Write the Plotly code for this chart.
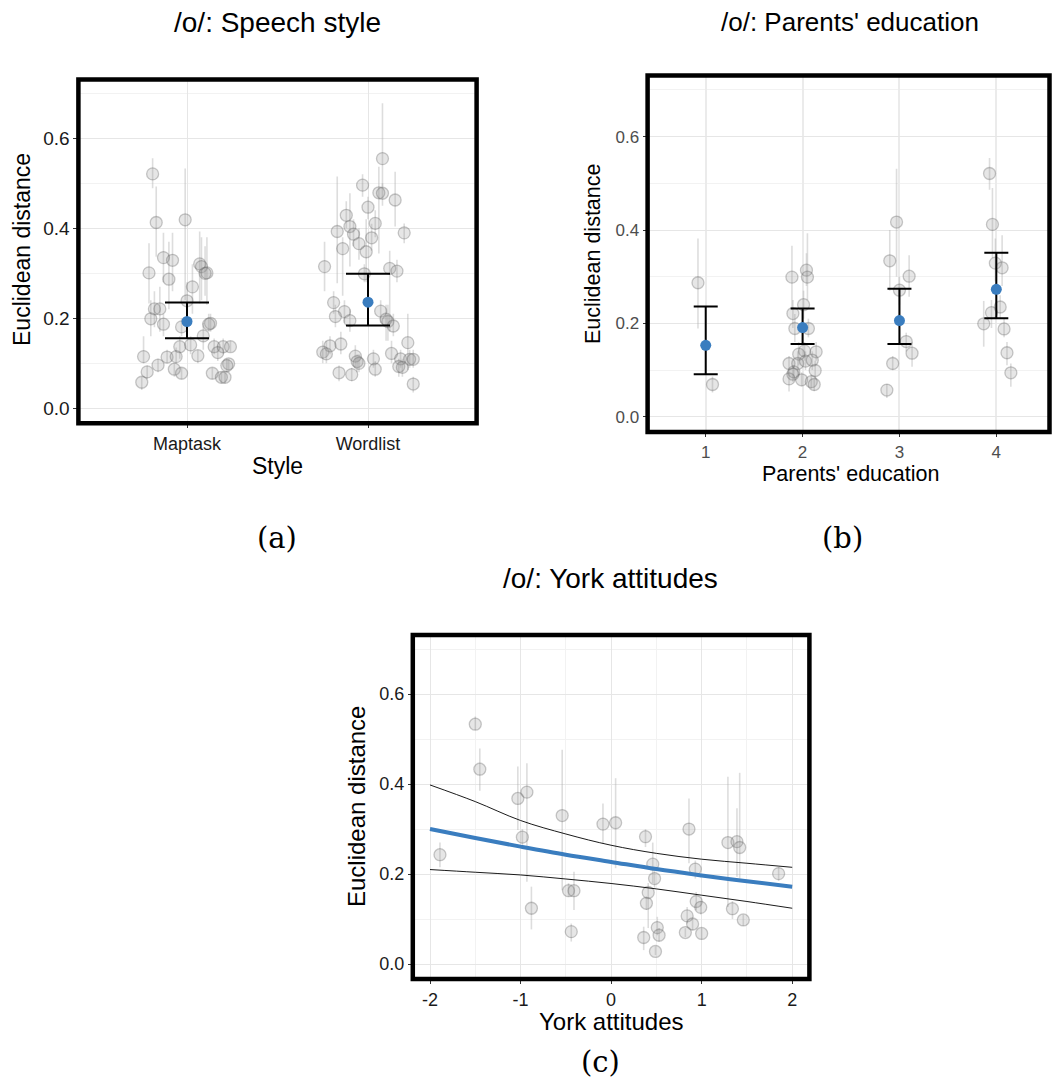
import plotly.graph_objects as go

W, H = 1052, 1078

# ---------------- Panel (a): Speech style ----------------
style_categories = ["Maptask", "Wordlist"]
a_x = [0.81, 0.83, 0.99, 0.87, 0.92, 0.79, 0.90, 1.07, 1.08, 1.11, 1.10, 1.03, 1.00, 0.82, 0.85,
       0.80, 0.87, 0.97, 1.13, 1.12, 1.09, 0.96, 1.02, 1.15, 1.20, 1.24, 1.17, 1.06, 0.76, 0.89,
       0.94, 0.84, 0.93, 0.78, 0.97, 1.23, 1.22, 1.14, 1.19, 1.21, 0.75,
       2.08, 1.97, 2.06, 2.08, 2.15, 2.00, 1.88, 2.04, 1.90, 1.83, 1.92, 2.02, 2.20, 1.95, 1.86,
       1.99, 1.76, 2.12, 2.16, 1.98, 1.81, 1.87, 2.07, 1.82, 1.90, 2.10, 2.11, 2.14, 2.22, 1.85,
       1.79, 1.75, 1.77, 2.13, 1.93, 2.03, 1.94, 1.95, 2.18, 2.23, 2.25, 2.17, 2.19, 2.04, 1.84,
       1.91, 2.25]
a_y = [0.521, 0.413, 0.419, 0.335, 0.329, 0.301, 0.287, 0.321, 0.315, 0.301, 0.300, 0.270, 0.239, 0.221, 0.221,
       0.199, 0.187, 0.181, 0.189, 0.187, 0.161, 0.137, 0.141, 0.137, 0.137, 0.137, 0.124, 0.117, 0.115, 0.114,
       0.115, 0.096, 0.087, 0.081, 0.078, 0.099, 0.095, 0.078, 0.069, 0.069, 0.058,
       0.555, 0.496, 0.479, 0.478, 0.463, 0.447, 0.429, 0.411, 0.404, 0.393, 0.387, 0.379, 0.390, 0.366, 0.355,
       0.348, 0.315, 0.311, 0.305, 0.299, 0.235, 0.215, 0.216, 0.204, 0.195, 0.198, 0.193, 0.183, 0.146, 0.143,
       0.139, 0.125, 0.121, 0.122, 0.116, 0.110, 0.104, 0.100, 0.110, 0.109, 0.109, 0.093, 0.091, 0.087, 0.079,
       0.075, 0.054]
a_hi = [0.556, 0.493, 0.533, 0.390, 0.390, 0.367, 0.370, 0.393, 0.380, 0.380, 0.360, 0.320, 0.280, 0.260, 0.270,
        0.240, 0.210, 0.200, 0.210, 0.210, 0.190, 0.160, 0.160, 0.155, 0.155, 0.150, 0.140, 0.130, 0.160, 0.130,
        0.135, 0.110, 0.100, 0.095, 0.090, 0.110, 0.110, 0.090, 0.080, 0.080, 0.070,
        0.678, 0.520, 0.537, 0.500, 0.526, 0.470, 0.460, 0.440, 0.478, 0.515, 0.420, 0.410, 0.411, 0.400, 0.380,
        0.420, 0.370, 0.350, 0.330, 0.320, 0.260, 0.240, 0.240, 0.230, 0.220, 0.230, 0.230, 0.210, 0.210, 0.170,
        0.160, 0.150, 0.150, 0.150, 0.140, 0.130, 0.120, 0.120, 0.130, 0.130, 0.130, 0.110, 0.110, 0.105, 0.095,
        0.090, 0.070]
a_lo = [0.489, 0.337, 0.241, 0.280, 0.260, 0.233, 0.220, 0.233, 0.240, 0.230, 0.250, 0.210, 0.200, 0.180, 0.170,
        0.160, 0.160, 0.160, 0.170, 0.170, 0.130, 0.110, 0.120, 0.120, 0.120, 0.125, 0.105, 0.100, 0.100, 0.100,
        0.100, 0.080, 0.070, 0.065, 0.065, 0.080, 0.080, 0.065, 0.055, 0.055, 0.041,
        0.493, 0.470, 0.344, 0.450, 0.404, 0.420, 0.400, 0.380, 0.315, 0.278, 0.360, 0.350, 0.367, 0.330, 0.250,
        0.280, 0.260, 0.170, 0.280, 0.280, 0.210, 0.190, 0.190, 0.180, 0.170, 0.150, 0.150, 0.160, 0.085, 0.120,
        0.120, 0.100, 0.100, 0.100, 0.090, 0.090, 0.080, 0.080, 0.090, 0.090, 0.090, 0.070, 0.070, 0.070, 0.060,
        0.060, 0.035]
a_mean_x = [1, 2]
a_mean = [0.193, 0.236]
a_mean_lo = [0.156, 0.184]
a_mean_hi = [0.235, 0.299]

# ---------------- Panel (b): Parents' education ----------------
b_x = [0.92, 1.07,
       2.04, 2.05, 1.89, 2.01, 1.90, 1.92, 2.06, 2.02, 2.14, 1.96, 1.86, 1.95, 2.03, 2.10, 2.13, 1.91,
       1.90, 1.86, 1.99, 2.09, 2.12,
       2.97, 2.90, 3.10, 3.00, 3.07, 3.13, 2.93, 2.87,
       3.93, 3.96, 3.99, 4.06, 4.04, 3.95, 3.87, 4.08, 4.11, 4.15]
b_y = [0.287, 0.069,
       0.314, 0.299, 0.299, 0.240, 0.221, 0.189, 0.189, 0.141, 0.139, 0.134, 0.114, 0.114, 0.119, 0.121, 0.099, 0.096,
       0.091, 0.081, 0.079, 0.075, 0.069,
       0.417, 0.334, 0.301, 0.271, 0.161, 0.136, 0.114, 0.057,
       0.521, 0.412, 0.329, 0.319, 0.235, 0.223, 0.199, 0.188, 0.137, 0.094]
b_hi = [0.382, 0.086,
        0.350, 0.393, 0.366, 0.270, 0.250, 0.220, 0.210, 0.160, 0.160, 0.160, 0.130, 0.140, 0.140, 0.140, 0.120, 0.110,
        0.110, 0.100, 0.095, 0.090, 0.080,
        0.531, 0.400, 0.346, 0.300, 0.180, 0.160, 0.130, 0.070,
        0.554, 0.490, 0.382, 0.389, 0.260, 0.250, 0.248, 0.210, 0.160, 0.114]
b_lo = [0.189, 0.052,
        0.280, 0.250, 0.229, 0.210, 0.190, 0.160, 0.170, 0.120, 0.120, 0.110, 0.100, 0.090, 0.100, 0.100, 0.080, 0.080,
        0.075, 0.054, 0.065, 0.060, 0.055,
        0.300, 0.270, 0.257, 0.240, 0.140, 0.107, 0.100, 0.040,
        0.486, 0.340, 0.290, 0.280, 0.210, 0.190, 0.150, 0.170, 0.110, 0.064]
b_mean_x = [1, 2, 3, 4]
b_mean = [0.153, 0.191, 0.206, 0.273]
b_mean_lo = [0.091, 0.156, 0.156, 0.211]
b_mean_hi = [0.236, 0.232, 0.274, 0.351]

# ---------------- Panel (c): York attitudes ----------------
c_x = [-1.89, -1.50, -1.45, -1.03, -0.93, -0.98, -0.88, -0.54, -0.47, -0.41, -0.44, -0.09, 0.05,
       0.38, 0.46, 0.48, 0.41, 0.39, 0.36, 0.51, 0.53, 0.49, 0.86, 0.93, 0.94, 0.99, 0.84, 0.90,
       0.82, 1.00, 1.29, 1.39, 1.42, 1.34, 1.46, 1.85]
c_y = [0.243, 0.533, 0.433, 0.368, 0.382, 0.282, 0.124, 0.330, 0.163, 0.163, 0.072, 0.311, 0.314,
       0.283, 0.222, 0.190, 0.159, 0.135, 0.059, 0.081, 0.064, 0.028, 0.300, 0.211, 0.139, 0.126, 0.107, 0.089,
       0.070, 0.068, 0.270, 0.272, 0.259, 0.123, 0.098, 0.201]
c_hi = [0.270, 0.550, 0.479, 0.439, 0.446, 0.300, 0.172, 0.476, 0.180, 0.205, 0.090, 0.357, 0.413,
        0.300, 0.270, 0.210, 0.180, 0.150, 0.083, 0.105, 0.080, 0.040, 0.368, 0.230, 0.160, 0.140, 0.127, 0.100,
        0.080, 0.080, 0.416, 0.346, 0.425, 0.140, 0.110, 0.215]
c_lo = [0.215, 0.520, 0.385, 0.298, 0.183, 0.260, 0.077, 0.164, 0.150, 0.120, 0.050, 0.268, 0.213,
        0.260, 0.180, 0.170, 0.080, 0.120, 0.031, 0.064, 0.050, 0.020, 0.224, 0.190, 0.120, 0.110, 0.090, 0.075,
        0.060, 0.055, 0.127, 0.194, 0.190, 0.100, 0.085, 0.185]
fit_x = [-2.0, -1.5, -1.0, -0.5, 0.0, 0.5, 1.0, 1.5, 2.0]
fit_y = [0.300, 0.280, 0.261, 0.243, 0.227, 0.211, 0.197, 0.184, 0.172]
fit_upper = [0.398, 0.361, 0.319, 0.289, 0.264, 0.246, 0.233, 0.224, 0.215]
fit_lower = [0.210, 0.204, 0.198, 0.189, 0.179, 0.167, 0.153, 0.139, 0.124]

y_ticks = [0.0, 0.2, 0.4, 0.6]
y_ticktext = ["0.0", "0.2", "0.4", "0.6"]

# ---------------- styling ----------------
FONT = "Liberation Sans, Arial, Helvetica, sans-serif"
SERIF = "DejaVu Serif, Liberation Serif, serif"
BLUE = "#3a7dbf"
PT_FILL = "rgba(140,140,140,0.22)"
PT_LINE = "rgba(90,90,90,0.32)"
BAR_COL = "rgba(170,170,170,0.40)"


def px_x(p):
    return p / W


def px_y(p):
    return 1 - p / H


def point_trace(xs, ys, lo, hi, ax):
    return go.Scatter(
        x=xs, y=ys, mode="markers", xaxis=ax[0], yaxis=ax[1], showlegend=False,
        marker=dict(size=12, color=PT_FILL, line=dict(color=PT_LINE, width=1.3)),
        error_y=dict(type="data", symmetric=False,
                     array=[h - v for h, v in zip(hi, ys)],
                     arrayminus=[v - l for v, l in zip(ys, lo)],
                     color=BAR_COL, thickness=1.6, width=0),
    )


def mean_trace(xs, ys, lo, hi, ax, cap, size):
    return go.Scatter(
        x=xs, y=ys, mode="markers", xaxis=ax[0], yaxis=ax[1], showlegend=False,
        marker=dict(size=size, color=BLUE),
        error_y=dict(type="data", symmetric=False,
                     array=[h - v for h, v in zip(hi, ys)],
                     arrayminus=[v - l for v, l in zip(ys, lo)],
                     color="black", thickness=2, width=cap),
    )


fig = go.Figure()
fig.add_trace(point_trace(a_x, a_y, a_lo, a_hi, ("x", "y")))
fig.add_trace(mean_trace(a_mean_x, a_mean, a_mean_lo, a_mean_hi, ("x", "y"), 22, 11))
fig.add_trace(point_trace(b_x, b_y, b_lo, b_hi, ("x2", "y2")))
fig.add_trace(mean_trace(b_mean_x, b_mean, b_mean_lo, b_mean_hi, ("x2", "y2"), 12, 11))
fig.add_trace(point_trace(c_x, c_y, c_lo, c_hi, ("x3", "y3")))
fig.add_trace(go.Scatter(x=fit_x, y=fit_upper, mode="lines", xaxis="x3", yaxis="y3", showlegend=False,
                         line=dict(color="black", width=0.9, shape="spline")))
fig.add_trace(go.Scatter(x=fit_x, y=fit_lower, mode="lines", xaxis="x3", yaxis="y3", showlegend=False,
                         line=dict(color="black", width=0.9, shape="spline")))
fig.add_trace(go.Scatter(x=fit_x, y=fit_y, mode="lines", xaxis="x3", yaxis="y3", showlegend=False,
                         line=dict(color=BLUE, width=4, shape="spline")))

YR = [-0.033, 0.731]
GRID = "#e6e6e6"
MINOR = "#f2f2f2"


def yaxis(dom, anchor, tickcol, tsize):
    return dict(domain=dom, anchor=anchor, range=YR, tickvals=y_ticks, ticktext=y_ticktext,
                showgrid=True, gridcolor=GRID, gridwidth=1, zeroline=False,
                ticks="outside", ticklen=4, tickcolor="#333333", tickwidth=1,
                tickfont=dict(family=FONT, size=tsize, color=tickcol),
                minor=dict(tickvals=[0.1, 0.3, 0.5, 0.7], showgrid=True, gridcolor=MINOR, gridwidth=1, ticks=""),
                showline=False)


fig.update_layout(
    width=W, height=H, margin=dict(l=0, r=0, t=0, b=0),
    paper_bgcolor="white", plot_bgcolor="white", showlegend=False,
    xaxis=dict(domain=[px_x(78.4), px_x(476.6)], anchor="y", range=[0.4, 2.6],
               tickvals=[1, 2], ticktext=style_categories, showgrid=True, gridcolor=GRID,
               zeroline=False, ticks="outside", ticklen=4, tickcolor="#333333",
               tickfont=dict(family=FONT, size=18, color="#1a1a1a")),
    yaxis=yaxis([px_y(423.2), px_y(79.4)], "x", "#1a1a1a", 19),
    xaxis2=dict(domain=[px_x(647.6), px_x(1049.5)], anchor="y2", range=[0.4, 4.549],
                tickvals=[1, 2, 3, 4], ticktext=["1", "2", "3", "4"], showgrid=True, gridcolor="#ebebeb",
                gridwidth=2, zeroline=False, ticks="outside", ticklen=4, tickcolor="#333333",
                tickfont=dict(family=FONT, size=17, color="#4d4d4d")),
    yaxis2=yaxis([px_y(432.1), px_y(75.5)], "x2", "#4d4d4d", 17),
    xaxis3=dict(domain=[px_x(412.8), px_x(809.4)], anchor="y3", range=[-2.19, 2.19],
                tickvals=[-2, -1, 0, 1, 2], ticktext=["-2", "-1", "0", "1", "2"], showgrid=True,
                gridcolor=GRID, zeroline=False, ticks="outside", ticklen=4, tickcolor="#333333",
                tickfont=dict(family=FONT, size=18, color="#1a1a1a"),
                minor=dict(tickvals=[-1.5, -0.5, 0.5, 1.5], showgrid=True, gridcolor=MINOR, ticks="")),
    yaxis3=yaxis([px_y(978.9), px_y(635.1)], "x3", "#1a1a1a", 18),
)

# thick panel borders
for xa, ya in [("x", "y"), ("x2", "y2"), ("x3", "y3")]:
    fig.add_shape(type="rect", xref=f"{xa} domain", yref=f"{ya} domain", x0=0, x1=1, y0=0, y1=1,
                  line=dict(color="black", width=4.5), fillcolor="rgba(0,0,0,0)", layer="above")


def text(x, y, s, size, family=FONT, angle=0, color="black"):
    fig.add_annotation(x=px_x(x), y=px_y(y), xref="paper", yref="paper", text=s, showarrow=False,
                       textangle=angle, xanchor="center", yanchor="middle",
                       font=dict(family=family, size=size, color=color))


# panel titles
text(277, 22, "/o/: Speech style", 28)
text(850, 22, "/o/: Parents' education", 26)
text(610, 578, "/o/: York attitudes", 28)
# axis titles
text(277, 466, "Style", 23)
text(850, 474, "Parents' education", 21.5)
text(611, 1021, "York attitudes", 24)
text(22, 250, "Euclidean distance", 23, angle=-90)
text(593, 254, "Euclidean distance", 21.5, angle=-90)
text(356, 807, "Euclidean distance", 24, angle=-90)
# captions
text(277, 538, "(a)", 29, family=SERIF)
text(842, 538, "(b)", 29, family=SERIF)
text(600, 1062, "(c)", 29, family=SERIF)

# remove the default 8px page margin so the figure fills the window exactly
fig.write_html("out.html", config={"displayModeBar": False},
               post_script="document.body.style.margin='0';")
